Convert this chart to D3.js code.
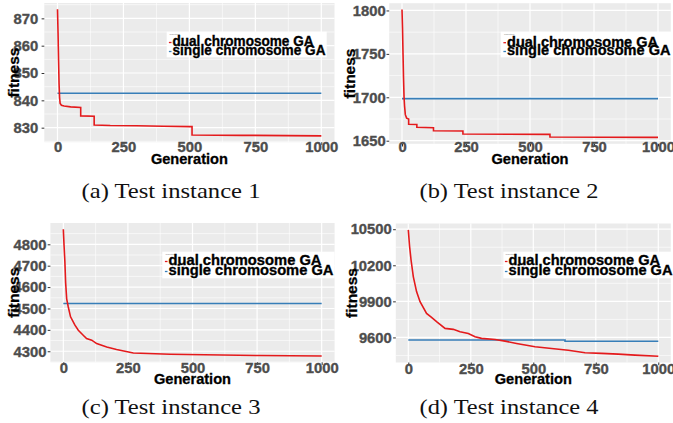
<!DOCTYPE html>
<html>
<head>
<meta charset="utf-8">
<script src="https://cdn.jsdelivr.net/npm/d3@7"></script>
<style>
  body { margin: 0; background: #fff; }
  svg text { font-family: "Liberation Sans", Arial, sans-serif; }
  .caption { font-family: "Liberation Serif", "Times New Roman", serif; }
</style>
</head>
<body>
<div id="chart"></div>
<script>
// data (generation, fitness)
const genA = [0, 2, 4, 6, 8, 10, 15, 25, 50, 88, 88, 139, 139, 200, 300, 400, 505, 510, 510, 700, 1000];
const dualA = [873.3, 865, 855, 846, 841, 838.9, 838.2, 837.9, 837.6, 837.4, 834.3, 834.2, 831, 830.8, 830.7, 830.5, 830.4, 830.4, 827.3, 827.2, 827.0];
const singleGenA = [0, 1000];
const singleA = [842.6, 842.6];

const genB = [0, 2, 4, 6, 8, 10, 13, 18, 26, 26, 58, 58, 123, 123, 238, 238, 578, 578, 1000];
const dualB = [1801, 1780, 1750, 1722, 1700, 1690, 1680, 1676, 1675, 1669, 1668.6, 1665.4, 1665, 1661.5, 1661.2, 1657.7, 1657.3, 1654.2, 1653.8];
const singleGenB = [0, 1000];
const singleB = [1698.5, 1698.5];

const genC = [0, 3, 6, 9, 13, 19, 28, 45, 58, 77, 90, 110, 129, 168, 206, 271, 413, 761, 1000];
const dualC = [4870, 4790, 4720, 4620, 4545, 4508, 4461, 4422, 4398, 4375, 4359, 4352, 4336, 4320, 4308, 4292, 4286, 4280, 4278];
const singleGenC = [0, 1000];
const singleC = [4523, 4523];

const genD = [0, 5, 11, 20, 33, 47, 73, 93, 113, 147, 180, 207, 240, 267, 293, 347, 387, 433, 507, 573, 640, 707, 773, 840, 907, 1000];
const dualD = [10495, 10360, 10244, 10106, 9981, 9897, 9800, 9767, 9731, 9675, 9667, 9647, 9633, 9606, 9592, 9583, 9569, 9550, 9522, 9508, 9494, 9472, 9467, 9461, 9453, 9444];
const singleGenD = [0, 627, 627, 1000];
const singleD = [9578, 9578, 9568, 9568];

const xTicks = [0, 250, 500, 750, 1000];
const yTicksA = [830, 840, 850, 860, 870];
const yTicksB = [1650, 1700, 1750, 1800];
const yTicksC = [4300, 4400, 4500, 4600, 4700, 4800];
const yTicksD = [9600, 9900, 10200, 10500];

const seriesNames = ["dual chromosome GA", "single chromosome GA"];
const captions = ["(a) Test instance 1", "(b) Test instance 2", "(c) Test instance 3", "(d) Test instance 4"];

const colors = ["#E41A1C", "#377EB8"];

const width = 673, height = 423;

const svg = d3.select("#chart").append("svg")
    .attr("width", width)
    .attr("height", height);

// panel layout (each sub figure was scaled a bit differently)
const panels = [
    { gen: genA, dual: dualA, sGen: singleGenA, single: singleA, yTicks: yTicksA,
      l: 44.3, r: 334.5, t: 3, b: 142.2, labGap: 5, xLabY: 152, titleY: 163.5, fitX: 18.5,
      leg: { x: 166.7, y: 31.7, w: 160, h: 25.6, tx: 172.5, b1: 46.3, b2: 55.3, fs: 14.6, w1: 141, w2: 153 },
      cap: { x: 171, y: 198 } },
    { gen: genB, dual: dualB, sGen: singleGenB, single: singleB, yTicks: yTicksB,
      l: 389.2, r: 670.8, t: 3.2, b: 143.8, labGap: 2.5, xLabY: 152, titleY: 164.2, fitX: 355,
      leg: { x: 500.7, y: 31.7, w: 173, h: 25.6, tx: 507, b1: 46.5, b2: 55.3, fs: 15, w1: 151, w2: 163.5 },
      cap: { x: 509, y: 198 } },
    { gen: genC, dual: dualC, sGen: singleGenC, single: singleC, yTicks: yTicksC,
      l: 50.4, r: 334.6, t: 223, b: 362.3, labGap: 3, xLabY: 373, titleY: 383.6, fitX: 18.5,
      leg: { x: 162.3, y: 251.7, w: 172.3, h: 26.6, tx: 168.5, b1: 265.3, b2: 275.3, fs: 15.4, w1: 153, w2: 165 },
      cap: { x: 171, y: 414 } },
    { gen: genD, dual: dualD, sGen: singleGenD, single: singleD, yTicks: yTicksD,
      l: 395.8, r: 670.8, t: 223.5, b: 362.5, labGap: 3, xLabY: 373.5, titleY: 384.3, fitX: 356.7,
      leg: { x: 503.3, y: 251.7, w: 170, h: 26.6, tx: 508.5, b1: 265.3, b2: 275.3, fs: 15.2, w1: 151.5, w2: 164 },
      cap: { x: 509, y: 414 } }
];

panels.forEach((p, i) => {
    const g = svg.append("g");

    // ggplot style 5% expansion
    const x = d3.scaleLinear().domain([-50, 1050]).range([p.l, p.r]);
    const all = p.dual.concat(p.single);
    const lo = d3.min(all), hi = d3.max(all), pad = (hi - lo) * 0.05;
    const y = d3.scaleLinear().domain([lo - pad, hi + pad]).range([p.b, p.t]);

    g.append("rect")
        .attr("x", p.l).attr("y", p.t)
        .attr("width", p.r - p.l).attr("height", p.b - p.t)
        .attr("fill", "#EBEBEB");

    // minor grid
    const yStep = p.yTicks[1] - p.yTicks[0];
    const yMinor = d3.range(p.yTicks[0] - yStep / 2, hi + pad, yStep).filter(v => v > lo - pad);
    const xMinor = [125, 375, 625, 875];
    g.selectAll(".ymin").data(yMinor).enter().append("line")
        .attr("x1", p.l).attr("x2", p.r)
        .attr("y1", d => y(d)).attr("y2", d => y(d))
        .attr("stroke", "#fff").attr("stroke-width", 0.6);
    g.selectAll(".xmin").data(xMinor).enter().append("line")
        .attr("y1", p.t).attr("y2", p.b)
        .attr("x1", d => x(d)).attr("x2", d => x(d))
        .attr("stroke", "#fff").attr("stroke-width", 0.6);

    // major grid
    g.selectAll(".ymaj").data(p.yTicks).enter().append("line")
        .attr("x1", p.l).attr("x2", p.r)
        .attr("y1", d => y(d)).attr("y2", d => y(d))
        .attr("stroke", "#fff").attr("stroke-width", 1.2);
    g.selectAll(".xmaj").data(xTicks).enter().append("line")
        .attr("y1", p.t).attr("y2", p.b)
        .attr("x1", d => x(d)).attr("x2", d => x(d))
        .attr("stroke", "#fff").attr("stroke-width", 1.2);

    // axes
    const fmt = d3.format("d");
    const yAxis = d3.axisLeft(y).tickValues(p.yTicks).tickFormat(fmt).tickSize(2.7).tickPadding(p.labGap - 2.7 + 1);
    const xAxis = d3.axisBottom(x).tickValues(xTicks).tickFormat(fmt).tickSize(2.7).tickPadding(1);
    const ya = g.append("g").attr("transform", `translate(${p.l},0)`).call(yAxis);
    const xa = g.append("g").attr("transform", `translate(0,${p.b})`).call(xAxis);
    [ya, xa].forEach(a => {
        a.select(".domain").remove();
        a.selectAll("line").attr("stroke", "#333").attr("stroke-width", 1);
        a.selectAll("text")
            .attr("fill", "#4D4D4D")
            .attr("stroke", "#4D4D4D").attr("stroke-width", 0.35)
            .style("font-size", "14.8px")
            .style("font-weight", "bold");
    });
    xa.selectAll("text").attr("dy", null).attr("y", p.xLabY - p.b);

    // axis titles
    g.append("text")
        .attr("x", (p.l + p.r) / 2).attr("y", p.titleY)
        .attr("text-anchor", "middle")
        .attr("stroke", "#000").attr("stroke-width", 0.3)
        .style("font-size", "14.6px").style("font-weight", "bold")
        .text("Generation");
    g.append("text")
        .attr("transform", `translate(${p.fitX},${(p.t + p.b) / 2}) rotate(-90)`)
        .attr("text-anchor", "middle")
        .attr("stroke", "#000").attr("stroke-width", 0.3)
        .style("font-size", "15.5px").style("font-weight", "bold")
        .text("fitness");

    // series
    const line = d3.line().x(d => x(d[0])).y(d => y(d[1]));
    const clip = "clip" + i;
    svg.append("clipPath").attr("id", clip).append("rect")
        .attr("x", p.l).attr("y", p.t).attr("width", p.r - p.l).attr("height", p.b - p.t);
    const lines = g.append("g").attr("clip-path", `url(#${clip})`);
    lines.append("path")
        .datum(d3.zip(p.sGen, p.single))
        .attr("d", line)
        .attr("fill", "none").attr("stroke", colors[1]).attr("stroke-width", 1.6);
    lines.append("path")
        .datum(d3.zip(p.gen, p.dual))
        .attr("d", line)
        .attr("fill", "none").attr("stroke", colors[0]).attr("stroke-width", 1.6);

    // legend
    const L = p.leg;
    const lg = g.append("g");
    lg.append("rect")
        .attr("x", L.x).attr("y", L.y).attr("width", L.w).attr("height", L.h)
        .attr("fill", "#fff");
    lg.append("text")
        .attr("x", L.tx - 3).attr("y", L.y + 3)
        .style("font-size", "2.5px").attr("fill", "#888")
        .text("algorithm");
    seriesNames.forEach((s, k) => {
        const by = k === 0 ? L.b1 : L.b2;
        lg.append("line")
            .attr("x1", L.tx - 3.6).attr("x2", L.tx - 1)
            .attr("y1", by - 3.8).attr("y2", by - 3.8)
            .attr("stroke", colors[k]).attr("stroke-width", 1.3);
        lg.append("text")
            .attr("x", L.tx).attr("y", by)
            .attr("textLength", k === 0 ? L.w1 : L.w2)
            .attr("lengthAdjust", "spacingAndGlyphs")
            .attr("stroke", "#000").attr("stroke-width", 0.35)
            .style("font-size", L.fs + "px").style("font-weight", "bold")
            .attr("fill", "#000")
            .text(s);
    });

    // caption
    svg.append("text")
        .attr("class", "caption")
        .attr("x", p.cap.x).attr("y", p.cap.y)
        .attr("text-anchor", "middle")
        .attr("textLength", 179)
        .attr("lengthAdjust", "spacingAndGlyphs")
        .style("font-size", "22px")
        .attr("fill", "#111")
        .text(captions[i]);
});
</script>
</body>
</html>
